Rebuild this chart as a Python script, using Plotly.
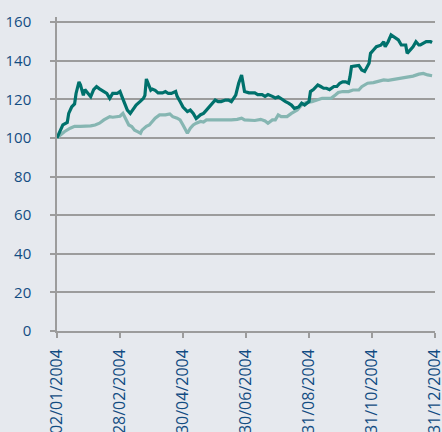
import plotly.graph_objects as go

# Trading-day index (0 = 02/01/2004, 258 = 31/12/2004) and index values
dark_day = [0, 2, 4, 7, 8, 10, 12, 13, 15, 16, 18, 19, 21, 23, 25, 27, 29, 32, 34, 36,
            38, 41, 43, 44, 46, 48, 50, 52, 54, 57, 59, 60, 61, 64, 65, 67, 69, 72, 74, 76,
            78, 81, 82, 84, 86, 89, 91, 93, 95, 98, 100, 102, 106, 108, 110, 112, 115, 117, 119, 122,
            124, 126, 127, 128, 131, 133, 135, 137, 140, 142, 144, 147, 149, 151, 153, 156, 158, 160, 162, 165,
            167, 169, 172, 173, 175, 178, 180, 182, 184, 186, 189, 191, 193, 195, 197, 199, 200, 201, 203, 206,
            208, 210, 213, 214, 216, 218, 221, 223, 224, 226, 228, 231, 233, 235, 238, 239, 241, 243, 245, 247,
            248, 250, 252, 255, 256]
dark_val = [100, 103.2, 106.7, 108, 112.7, 116, 117.6, 123, 129, 127.5, 122, 125, 123, 121.3, 125, 126.5, 125.4, 124, 123, 120.5,
            123, 123, 124, 122, 117.9, 114.4, 112.7, 115, 117, 119, 120.5, 122, 130.5, 124.7, 125.3, 124.6, 123.3, 123.3, 124, 123,
            123, 124, 121.5, 118.8, 116, 113.6, 114.4, 112.7, 110, 112, 112.7, 114.4, 118, 119.6, 118.8, 118.8, 119.6, 119.6, 118.8, 122.2,
            128.3, 132.5, 128.3, 124, 123.3, 123.3, 123.3, 122.4, 122.4, 121.5, 122.4, 121.5, 120.7, 121.3, 120.2, 118.8, 118, 117, 115.3, 116,
            118, 117, 118.8, 124, 125, 127.4, 126.6, 125.7, 125.7, 125, 126.6, 126.6, 128.3, 129, 129, 128.3, 131.7, 136.9, 137.2, 137.5,
            135.2, 134.4, 138.6, 143.8, 145.5, 147.2, 148, 149.8, 147.2, 149.8, 153.3, 151.6, 150.7, 148.1, 148.1, 143.8, 145.5, 147.2, 149.8, 148.1,
            148.1, 149, 149.8, 149.8, 149.4]

light_day = [0, 2, 5, 9, 12, 16, 19, 23, 26, 29, 32, 34, 36, 38, 41, 43, 45, 47, 49, 51,
             53, 55, 57, 58, 61, 63, 67, 70, 74, 77, 79, 82, 84, 86, 88, 89, 91, 93, 95, 98,
             100, 102, 106, 109, 112, 116, 119, 123, 126, 128, 132, 135, 139, 142, 144, 147, 149, 151, 153, 157,
             160, 164, 167, 170, 174, 177, 181, 184, 187, 190, 192, 195, 199, 202, 206, 208, 210, 212, 216, 219,
             223, 226, 230, 233, 236, 240, 243, 247, 250, 253, 256]
light_val = [100, 101.5, 103.2, 105, 106, 106, 106, 106.2, 106.7, 107.6, 109.3, 110.2, 111, 110.7, 111, 111.2, 112.7, 110, 106.7, 105.9,
             104, 103.2, 102.4, 104, 106, 106.7, 110.2, 111.9, 111.9, 112.4, 111, 110.2, 109.3, 106.7, 103.2, 102.4, 105, 106.7, 107.6, 108.5,
             108.2, 109.3, 109.3, 109.3, 109, 109.3, 109.3, 109.6, 110.2, 109.3, 109.3, 109, 109.6, 108.8, 107.6, 109.3, 109.3, 111.9, 111, 111,
             112.7, 114.4, 117, 118.3, 118.8, 119.6, 120.5, 120.5, 120.5, 122.2, 123.5, 124, 124, 124.8, 124.8, 126.5, 127.4, 128.3, 128.6, 129.1,
             130, 129.8, 130.3, 130.9, 131.3, 131.7, 132, 133, 133.4, 132.6, 132.2]

tick_days = [0, 43, 86, 129, 172, 215, 258]
tick_labels = ["02/01/2004", "28/02/2004", "30/04/2004", "30/06/2004",
               "31/08/2004", "31/10/2004", "31/12/2004"]
y_ticks = [0, 20, 40, 60, 80, 100, 120, 140, 160]

TEXT = "#124c82"
GRID = "#9c9c9c"

fig = go.Figure()
fig.add_trace(go.Scatter(x=light_day, y=light_val, mode="lines",
                         line=dict(color="#86b6b2", width=3.2), hoverinfo="skip"))
fig.add_trace(go.Scatter(x=dark_day, y=dark_val, mode="lines",
                         line=dict(color="#00716c", width=3.2), hoverinfo="skip"))

fig.update_layout(
    width=442, height=432,
    margin=dict(l=57, r=7, t=17, b=101),
    paper_bgcolor="#e6e9ee", plot_bgcolor="#e6e9ee",
    showlegend=False,
    font=dict(family="Open Sans, Noto Sans, sans-serif", size=15, color=TEXT),
)
fig.update_xaxes(
    range=[0, 258], tickmode="array", tickvals=tick_days, ticktext=tick_labels,
    tickangle=-90, ticks="outside", ticklen=5, tickcolor=GRID, tickwidth=1.5,
    tickfont=dict(size=16),
    showline=True, linecolor=GRID, linewidth=1.5, showgrid=False, zeroline=False,
    ticklabelstandoff=5, automargin=False, ticklabeloverflow="allow",
)
fig.update_yaxes(
    range=[0, 162.6], tickmode="array", tickvals=y_ticks,
    ticks="outside", ticklen=5, tickcolor=GRID, tickwidth=1.5,
    showline=True, linecolor=GRID, linewidth=1.5,
    showgrid=True, gridcolor=GRID, gridwidth=1.5, zeroline=False,
    ticklabelstandoff=16, automargin=False,
)
fig.write_html(
    "out.html",
    config={"displayModeBar": False},
    post_script="document.body.style.margin='0';document.body.style.overflow='hidden';"
                "document.documentElement.style.overflow='hidden';",
)
